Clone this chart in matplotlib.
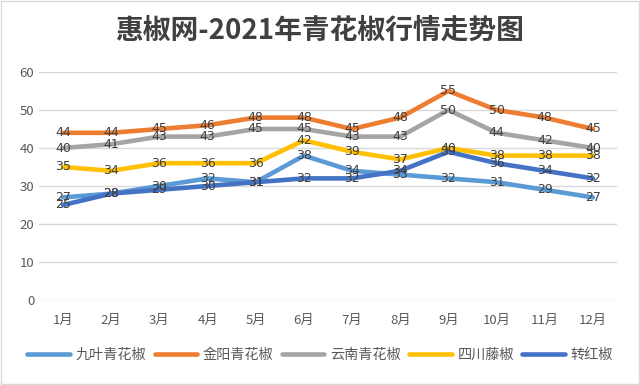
import matplotlib
matplotlib.use("Agg")
import matplotlib.pyplot as plt

plt.rcParams['font.family'] = ['Noto Sans CJK SC', 'DejaVu Sans']

# -------- Данные --------
months = ["1月", "2月", "3月", "4月", "5月", "6月", "7月", "8月", "9月", "10月", "11月", "12月"]
jiuye = [27, 28, 30, 32, 31, 38, 34, 33, 32, 31, 29, 27]
jinyang = [44, 44, 45, 46, 48, 48, 45, 48, 55, 50, 48, 45]
yunnan = [40, 41, 43, 43, 45, 45, 43, 43, 50, 44, 42, 40]
sichuan = [35, 34, 36, 36, 36, 42, 39, 37, 40, 38, 38, 38]
zhuanhong = [25, 28, 29, 30, 31, 32, 32, 34, 39, 36, 34, 32]

series = [
    ("九叶青花椒", jiuye, "#5B9BD5"),
    ("金阳青花椒", jinyang, "#ED7D31"),
    ("云南青花椒", yunnan, "#A5A5A5"),
    ("四川藤椒", sichuan, "#FFC000"),
    ("转红椒", zhuanhong, "#4472C4"),
]

fig = plt.figure(figsize=(6.4, 3.85), dpi=100)
ax = fig.add_axes([39 / 640, 1 - 300 / 385, 578 / 640, 228 / 385])

x = list(range(len(months)))
for name, vals, color in series:
    ax.plot(x, vals, color=color, linewidth=3.3, label=name, solid_capstyle="round")
    for xi, yi in zip(x, vals):
        ax.text(xi, yi, str(yi), ha="center", va="center", fontsize=9,
                color="#404040", family="DejaVu Sans")

ax.set_xlim(-0.5, len(months) - 0.5)
ax.set_ylim(0, 60)
ax.set_yticks(range(0, 61, 10))
ax.set_xticks(x)
ax.set_xticklabels(months)
ax.tick_params(axis="both", length=0, labelsize=9.5, colors="#595959")
ax.tick_params(axis="x", pad=10)
ax.grid(axis="y", color="#D9D9D9", linewidth=1)
ax.set_axisbelow(True)
for s in ax.spines.values():
    s.set_visible(False)

# Заголовок
fig.suptitle("惠椒网-2021年青花椒行情走势图", x=0.5, y=1 - 31 / 385, va="center",
             fontsize=20, fontweight="bold", color="#404040")

fig.legend(loc="center", bbox_to_anchor=(0.5, 1 - 355 / 385), ncol=5,
           frameon=False, fontsize=10.2, handlelength=3, columnspacing=0.6,
           handletextpad=0.4, labelcolor="#595959")

fig.patches.append(plt.Rectangle((0.002, 0.003), 0.996, 0.994, transform=fig.transFigure,
                                 fill=False, edgecolor="#D9D9D9", linewidth=1))

plt.savefig("out.png", dpi=100)
plt.close()
